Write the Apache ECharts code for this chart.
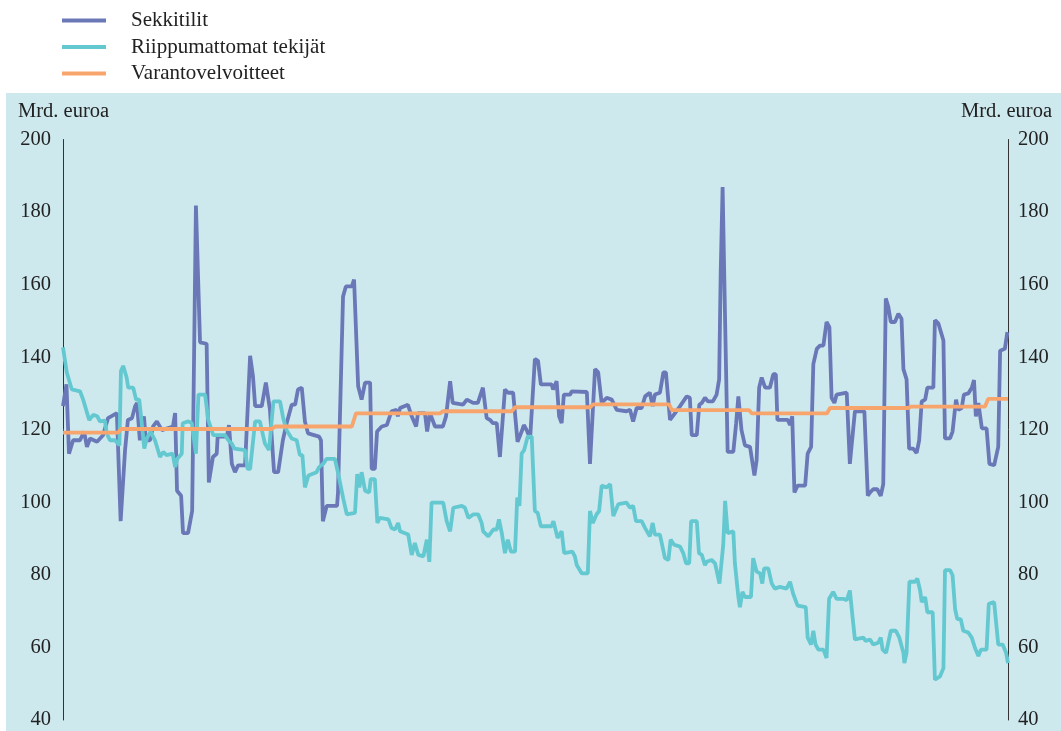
<!DOCTYPE html>
<html>
<head>
<meta charset="utf-8">
<script src="https://cdn.jsdelivr.net/npm/echarts@6/dist/echarts.min.js"></script>
<style>
html,body{margin:0;padding:0;background:#fff;}
#chart{width:1061px;height:731px;}
</style>
</head>
<body>
<div id="chart"></div>
<script>
// x = week index (0..300), y = Mrd. euroa
var seriesNames = ['Sekkitilit', 'Riippumattomat tekijät', 'Varantovelvoitteet'];
var yTicks = [40, 60, 80, 100, 120, 140, 160, 180, 200];
var unitLabel = 'Mrd. euroa';

var sekkitilit = [[0,126.5],[1.1,132.5],[1.9,113.4],[3.2,117.1],[5.4,117.1],[6.7,119.5],[7.6,115.3],[8.6,117.6],[10.8,116.7],[12.7,118.5],[14.3,123.2],[17.1,124.6],[18.3,94.8],[19.7,114.4],[20.6,122.7],[21.9,123.2],[22.9,126.5],[23.5,127.4],[24.4,117.1],[25.7,123.7],[26.3,117.1],[27.6,117.1],[28.6,120.9],[29.8,122.3],[31.4,119.9],[34.9,120.9],[35.6,124.6],[36.2,103.2],[37.5,101.8],[38.1,91.5],[39.7,91.5],[41,97.6],[42.2,181.8],[43.5,144.1],[45.6,143.7],[46.3,105.5],[47.6,112.5],[48.8,113.4],[49.1,118.1],[52,118.1],[52.7,121.3],[53.6,110.6],[54.6,108.3],[55.6,110.2],[57.8,110.2],[59.4,140.4],[60.3,134.8],[61,126.5],[63.1,126.5],[64.4,133],[65.7,125.5],[67,108.3],[68.3,108.3],[69.8,117.1],[71,121.8],[72.6,126.9],[73.7,126.9],[74.6,131.1],[75.8,131.6],[76.8,122.3],[77.8,119],[81.3,118.1],[81.9,117.1],[82.5,94.8],[83.7,99],[87,99],[87.3,102.7],[88.9,156.7],[89.8,159.5],[91.7,159.5],[92.4,161.4],[93.7,132],[94.8,128.3],[95.9,133],[97.5,133],[98,109.2],[99,109.2],[99.7,119.5],[101.2,120.9],[102.8,121.3],[104.3,125.1],[105.9,125.5],[106.3,123.7],[107,126],[109.5,126.9],[110.7,123.7],[112.1,120.9],[112.7,124.6],[114.9,124.6],[115.6,119.5],[116.5,124.6],[118.1,120.9],[120.6,120.9],[121.6,123.7],[122.9,133.4],[123.7,127.4],[127,126.9],[128.2,128.3],[130.2,127.4],[131.7,127.4],[133.3,131.6],[134.5,123.2],[135.6,122.7],[136.5,121.8],[137.7,121.8],[138.7,112.5],[140.3,131.1],[141.3,130.2],[142.9,130.2],[144.3,116.7],[145.6,119.5],[146.3,121.3],[147.2,119.9],[148.3,117.6],[149.8,139.5],[150.8,139],[151.7,132.5],[155.1,132.5],[155.6,131.1],[156.7,133.4],[157.5,123.7],[158.3,121.8],[159,129.7],[161,129.7],[161.5,130.6],[166.3,130.4],[167.3,110.6],[168.9,136.7],[169.9,135.8],[171,127.4],[172.6,128.8],[174.2,128.3],[175.8,125.5],[178.9,125.1],[180,125.5],[181,122.3],[182.1,126],[183.7,126],[184.8,129.2],[186.3,130.2],[187.2,126.5],[187.9,129.7],[189.5,130.2],[190.6,135.8],[191.4,135.8],[192.7,122.7],[194.3,124.6],[195.9,126.5],[198,129.2],[199,128.8],[199.6,118.5],[201.2,118.5],[202,126.9],[202.8,127.4],[203.8,128.8],[204.8,127.8],[206.3,127.8],[207.5,129.7],[208.3,133.9],[208.8,163.7],[209.4,186.9],[210.2,149.7],[211,113.9],[212.8,113.9],[213.7,121.8],[214.4,129.2],[215.4,119.9],[216.5,115.7],[218.1,115.3],[219.5,107.4],[220.2,111.6],[221,131.6],[221.8,134.4],[222.9,131.6],[224.4,131.6],[225.5,135.3],[226.3,135.3],[226.8,122.7],[230.1,122.7],[230.8,121.3],[231.5,123.7],[232.2,102.7],[233.2,104.6],[235.6,104.6],[236.4,113.4],[237.5,115.3],[238.2,138.1],[239.3,142.3],[240.3,143.2],[241.4,143.2],[242.4,149.7],[243.3,148.3],[244,128.8],[244.9,127.4],[245.6,129.7],[248.8,130.2],[249.8,110.6],[251.4,125.1],[254.4,125.1],[255.5,101.8],[256.2,102.7],[257.2,103.6],[258.5,103.6],[259.6,101.8],[260.4,105],[261.2,156.2],[262,153.9],[262.8,149.7],[264.1,149.7],[265.2,152],[266.2,150.6],[266.8,136.7],[267.8,133.9],[268.6,114.8],[269.9,114.8],[271,113.6],[271.8,117.1],[272.6,127.8],[273.7,128.3],[274.4,131.6],[276.3,131.6],[276.8,150.2],[277.9,149.3],[279.5,144.6],[280,117.6],[281.6,117.6],[282.4,119.5],[283.5,128.3],[284.2,125.5],[285.3,126],[286,129.7],[287.4,130],[288.5,131.6],[289.2,133.7],[289.8,123.7],[290.6,127.4],[291.7,120.4],[293.2,120.4],[294.1,110.6],[295.6,110.2],[296.9,115.3],[297.5,141.8],[299,142.3],[299.8,146.9]];

var riippumattomat = [[0,142.7],[1.2,135.8],[2.8,131.1],[5.4,130.6],[6.4,128.3],[8.3,122.7],[9.6,124.1],[10.9,123.7],[11.7,122.3],[13.3,122.5],[13.9,119],[14.9,117.1],[16.5,117.1],[17.9,115.7],[18.4,136.2],[19.1,137.6],[20.2,134.4],[20.7,131.6],[22.3,131.6],[23.2,128.3],[24.2,128.3],[25,121.8],[25.8,114.8],[26.6,117.6],[27.8,119.5],[29.2,117.1],[30.8,112.5],[31.8,113.9],[32.9,113],[34.8,113.4],[35.6,109.7],[36.3,112],[37.7,113.4],[38,121.8],[39.8,122.3],[40.9,121.8],[42.2,113.4],[43,129.7],[45.1,129.7],[46.1,122.7],[47.7,118.5],[51.4,118.5],[52.5,117.1],[53.6,116.2],[54.4,114.8],[57.8,114.4],[58.6,109.2],[59.4,109.2],[61,122.3],[62.5,122.3],[64.1,116.2],[65.4,114.4],[66.8,127.8],[68.9,127.8],[69.9,123.2],[71,119.9],[72.6,117.6],[74.2,117.1],[75.2,113],[76,113],[76.8,104.1],[77.9,107.4],[80.5,108.3],[81.3,109.7],[82.6,110.6],[83.7,112],[86.3,112],[87.4,107.8],[89,100.9],[90.1,96.7],[92.7,97.1],[93.4,107.8],[94.1,104.1],[94.8,108.3],[95.9,103.2],[97.2,102.7],[97.7,106.4],[99,106.4],[99.8,94.3],[100.6,95.7],[103.3,95.3],[104.3,92.9],[105.4,92.5],[106.4,94.3],[107,92],[109.6,91.1],[110.7,85.5],[111.7,88.8],[112.8,85.5],[114.4,85.1],[115.5,89.7],[116.3,83.6],[117,99.9],[120.7,99.9],[121.8,94.8],[122.9,92],[123.9,98.5],[126.6,99],[127.6,98.5],[128.7,95.7],[130.3,96.7],[131.8,96.7],[132.9,94.3],[133.4,92],[135,90.6],[136.6,92.5],[137.7,92.5],[138.4,95.3],[139.3,91.5],[140.3,86],[141.2,89.7],[142.2,86.4],[143.5,86.4],[144.2,101.3],[144.9,99],[145.6,113.4],[146.4,114.4],[147.5,118.1],[148.8,118.1],[149.8,97.6],[150.7,97.1],[151.7,93.4],[155.1,93.4],[155.7,94.8],[157,90.2],[158.3,92],[159.1,86],[161.7,86.4],[162.5,85.1],[163.1,82.7],[164.7,80.4],[166.6,80.4],[167.3,97.6],[168.2,94.3],[169.4,96.7],[170.2,97.6],[171,104.6],[172.6,104.1],[173.7,105],[174.7,96.2],[176.3,99.5],[178.9,99.9],[180,98.5],[181,99],[181.9,94.8],[183.7,94.8],[184.8,92.9],[186.3,90.6],[187.2,94.3],[187.9,91.1],[189.5,91.1],[191.1,84.6],[192.2,84.1],[192.9,89.7],[194,88.3],[195.9,87.8],[196.9,86],[197.8,83.2],[198.8,83.2],[199.4,94.8],[201.2,94.8],[201.9,86],[202.8,85.5],[203.8,82.7],[204.3,83.6],[205.9,84.1],[207,83.2],[208.4,77.6],[209.6,88.3],[210.2,100.4],[211,91.5],[212.8,92],[213.3,83.2],[214.4,73.9],[214.9,71.1],[215.7,75.3],[216.5,73.9],[218.4,73.9],[219.1,84.6],[220.2,80.9],[221.3,80.4],[222,77.6],[222.6,81.8],[223.9,81.8],[225,77.6],[226,76.2],[227.6,76.7],[229.7,76.2],[230.8,78.1],[231.8,74.8],[233.2,71.5],[235.8,71.1],[236.4,62.7],[237.5,60.8],[238.2,64.6],[238.9,60.8],[239.8,59.4],[241.4,59.4],[242.4,57.1],[243.2,73.4],[244.5,75.3],[245.6,73.4],[247.7,73.4],[248.8,73],[249.8,75.7],[250.6,68.8],[251.4,62.2],[254.1,62.7],[254.8,61.8],[256.2,62.2],[257.2,60.8],[258.8,61.3],[259.6,62.7],[260.2,59.4],[261.3,58.5],[262.8,64.6],[264.4,64.6],[265.5,62.7],[266.8,58.5],[267.1,55.7],[267.8,58.5],[268.7,78.1],[270.5,78.1],[271.2,79],[272.1,75.7],[272.6,72.5],[273.7,73.9],[274.4,69.7],[276.1,69.7],[276.8,51.1],[278.4,52],[279.5,54.3],[280,81.3],[281.6,81.3],[282.4,79.9],[283.2,70.6],[283.9,67.8],[285,67.8],[285.8,64.6],[287.4,64.1],[288.5,62.7],[289.5,59.9],[290.6,57.6],[291.4,59.4],[293.2,59.4],[293.9,72],[295.6,72.5],[296.9,60.8],[298.3,60.8],[299.4,58.5],[300,55.7]];

var varantovelvoitteet = [[0,119.2],[17.5,119.2],[18.4,120.2],[66.3,120.2],[67.3,120.9],[91.7,120.9],[93,124.5],[119.7,124.5],[120.6,125.1],[142.5,125.1],[143.5,126.2],[167.3,126.2],[168.3,127],[192.4,127],[193.3,125.4],[217.8,125.4],[218.7,124.5],[242.5,124.5],[243.5,126],[268.3,126],[269.2,126.4],[292.7,126.4],[293.7,128.5],[300,128.5]];

var colors = ['#6a78b8', '#64c8d0', '#f7a56c'];
var FONT = '"Liberation Serif", "Times New Roman", serif';

var chart = echarts.init(document.getElementById('chart'), null, {renderer: 'canvas'});

function yAxisCfg(pos, margin) {
  return {
    type: 'value', position: pos, min: yTicks[0], max: yTicks[yTicks.length - 1], interval: 20,
    axisLine: {show: true, lineStyle: {color: '#333', width: 1}},
    axisTick: {show: false},
    splitLine: {show: false},
    axisLabel: {margin: margin, color: '#222', fontFamily: FONT, fontSize: 20.5}
  };
}

chart.setOption({
  animation: false,
  backgroundColor: '#ffffff',
  color: colors,
  graphic: [
    {type: 'rect', z: -10, shape: {x: 6, y: 93, width: 1055, height: 638}, style: {fill: '#cde9ee'}},
    {type: 'text', z: 10, left: 18, top: 101, style: {text: unitLabel, font: '20.5px ' + FONT, fill: '#222'}},
    {type: 'text', z: 10, right: 9, top: 101, style: {text: unitLabel, font: '20.5px ' + FONT, fill: '#222'}}
  ],
  legend: {
    orient: 'vertical', left: 57, top: 5,
    itemWidth: 44, itemHeight: 4, itemGap: 5.5,
    icon: 'rect',
    textStyle: {fontFamily: FONT, fontSize: 21, color: '#222', lineHeight: 21, padding: [0, 0, 0, 20]},
    data: seriesNames
  },
  grid: {left: 63, right: 53, top: 139.5, bottom: 11, containLabel: false},
  xAxis: {type: 'value', min: 0, max: 300, show: false},
  yAxis: [yAxisCfg('left', 12), yAxisCfg('right', 10)],
  series: [
    {name: seriesNames[0], type: 'line', data: sekkitilit, showSymbol: false, lineStyle: {width: 3.8, color: colors[0]}, itemStyle: {color: colors[0]}},
    {name: seriesNames[1], type: 'line', data: riippumattomat, showSymbol: false, lineStyle: {width: 3.8, color: colors[1]}, itemStyle: {color: colors[1]}},
    {name: seriesNames[2], type: 'line', data: varantovelvoitteet, showSymbol: false, lineStyle: {width: 3.8, color: colors[2]}, itemStyle: {color: colors[2]}}
  ]
});
</script>
</body>
</html>
